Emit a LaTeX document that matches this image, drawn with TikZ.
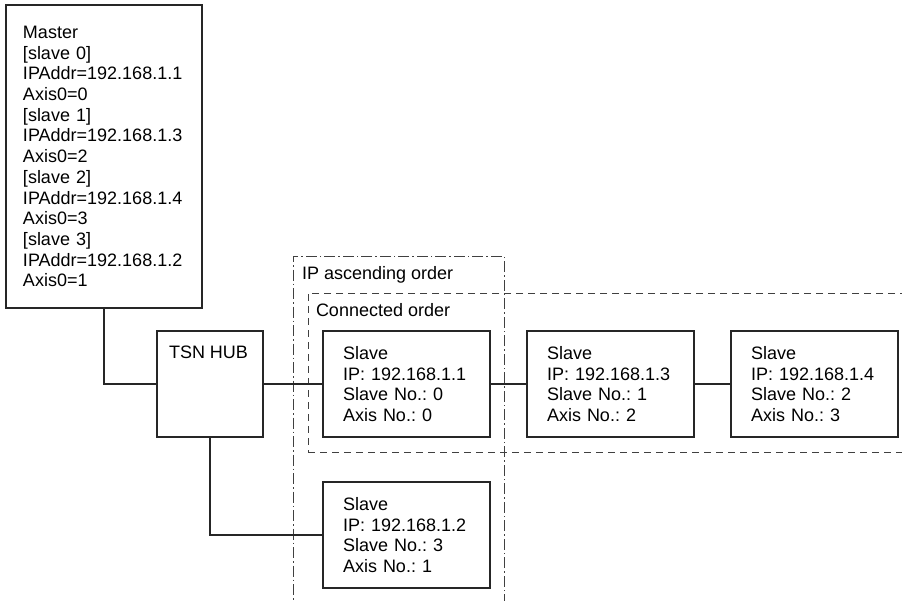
\documentclass[tikz,border=0pt]{standalone}
\usepackage{fontspec}
\setmainfont{Liberation Sans}
\usetikzlibrary{positioning}
\frenchspacing

\begin{document}
\begin{tikzpicture}[
		x=1pt,y=-1pt,
		every node/.style={outer sep=0pt,font=\fontsize{18}{20.7}\selectfont},
		unit/.style  ={rectangle,draw=black!85,line width=1.1pt,align=left,inner sep=0pt},
		master/.style={unit,minimum width=196pt,minimum height=303pt,text width=162pt},
		hubbox/.style={unit,minimum width=106pt,minimum height=106pt},
		slave/.style ={unit,minimum width=167pt,minimum height=106pt,text width=127pt},
		ipzone/.style={rectangle,draw=black!75,line width=0.8pt,anchor=north west,
			dash pattern=on 11pt off 3pt on 1.5pt off 3pt},
		cozone/.style={rectangle,draw=black!75,line width=0.8pt,anchor=north west,
			dash pattern=on 7pt off 5pt},
		zonetext/.style={anchor=base west,inner sep=0pt},
		link/.style  ={draw=black!85,line width=1.1pt}
		]

		\clip (0,0) rectangle (902,600);

		% ---- order zones (drawn first, boxes on top) ----
		\node[ipzone,minimum width=211pt,minimum height=360pt] (ipz) at (293,256) {};
		\node[zonetext] (iptext) at ([shift={(9,23)}]ipz.north west) {IP ascending order};
		\node[cozone,minimum width=610pt,minimum height=159pt] (coz) at (308,293) {};
		\node[zonetext] (cotext) at ([shift={(8,23)}]coz.north west) {Connected order};

		% ---- master with its slave table ----
		\node[master] (master) at (104,156.5)
			{Master\\{[}slave 0{]}\\IPAddr=192.168.1.1\\Axis0=0\\{[}slave 1{]}\\IPAddr=192.168.1.3\\Axis0=2\\%
			 {[}slave 2{]}\\IPAddr=192.168.1.4\\Axis0=3\\{[}slave 3{]}\\IPAddr=192.168.1.2\\Axis0=1};

		% ---- hub (label sits at the top) ----
		\node[hubbox,fill=white] (hub) at (210,384) {};
		\node[zonetext] (hubtext) at ([shift={(12,27)}]hub.north west) {TSN HUB};

		% ---- slaves in connected order ----
		\node[slave,fill=white,right=60pt of hub] (s0)
			{Slave\\IP: 192.168.1.1\\Slave No.: 0\\Axis No.: 0};
		\node[slave,fill=white,right=37pt of s0] (s1)
			{Slave\\IP: 192.168.1.3\\Slave No.: 1\\Axis No.: 2};
		\node[slave,fill=white,right=37pt of s1] (s2)
			{Slave\\IP: 192.168.1.4\\Slave No.: 2\\Axis No.: 3};

		% ---- slave on the second hub port ----
		\node[slave,fill=white,below=45pt of s0] (s3)
			{Slave\\IP: 192.168.1.2\\Slave No.: 3\\Axis No.: 1};

		% ---- cabling ----
		\draw[link] (master.south) |- (hub.west);
		\draw[link] (hub.east) -- (s0.west);
		\draw[link] (s0.east) -- (s1.west);
		\draw[link] (s1.east) -- (s2.west);
		\draw[link] (hub.south) |- (s3.west);

	\end{tikzpicture}
\end{document}
